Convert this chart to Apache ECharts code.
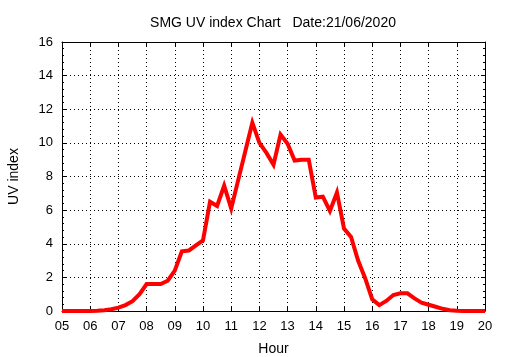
<!DOCTYPE html>
<html>
<head>
<meta charset="utf-8">
<script src="https://cdn.jsdelivr.net/npm/echarts@6/dist/echarts.min.js"></script>
<style>html,body{margin:0;padding:0;background:#fff}#c{width:510px;height:357px}</style>
</head>
<body>
<div id="c"></div>
<script>
var titleText = 'SMG UV index Chart   Date:21/06/2020';
var times = ['05:00','05:15','05:30','05:45','06:00','06:15','06:30','06:45',
  '07:00','07:15','07:30','07:45','08:00','08:15','08:30','08:45',
  '09:00','09:15','09:30','09:45','10:00','10:15','10:30','10:45',
  '11:00','11:15','11:30','11:45','12:00','12:15','12:30','12:45',
  '13:00','13:15','13:30','13:45','14:00','14:15','14:30','14:45',
  '15:00','15:15','15:30','15:45','16:00','16:15','16:30','16:45',
  '17:00','17:15','17:30','17:45','18:00','18:15','18:30','18:45',
  '19:00','19:15','19:30','19:45','20:00'];
var uv = [0,0,0,0,0,0.02,0.05,0.1,
  0.2,0.35,0.58,1.0,1.6,1.6,1.6,1.8,
  2.4,3.55,3.6,3.9,4.2,6.5,6.25,7.45,
  6.1,7.8,9.5,11.2,10.0,9.4,8.7,10.5,
  9.95,8.95,9.0,9.0,6.75,6.8,5.95,7.05,
  4.9,4.4,3.0,1.95,0.7,0.35,0.6,0.95,
  1.05,1.05,0.75,0.5,0.37,0.25,0.13,0.05,
  0.02,0,0,0,0];
var xMin = 5, xMax = 20, yMin = 0, yMax = 16;

function toHour(t){ var p = t.split(':'); return +p[0] + (+p[1])/60; }
var pts = times.map(function(t,i){ return [toHour(t), uv[i]]; });

var font = 'Liberation Sans, Arial, sans-serif';
var chart = echarts.init(document.getElementById('c'));
chart.setOption({
  animation: false,
  backgroundColor: '#fff',
  title: { text: titleText, left: 268, top: 11, textAlign: 'center',
    textStyle: { fontFamily: font, fontSize: 14, fontWeight: 'normal', color: '#000' } },
  grid: { left: 62, right: 25, top: 42, bottom: 46, show: false, containLabel: false, outerBoundsMode: 'none' },
  xAxis: [{
    type: 'value', min: xMin, max: xMax, interval: 1, position: 'bottom',
    name: 'Hour', nameLocation: 'middle', nameGap: 31,
    nameTextStyle: { fontFamily: font, fontSize: 14, color: '#000' },
    axisLine: { show: true, onZero: false, lineStyle: { color: '#000', width: 1 } },
    axisTick: { show: true, inside: true, length: 4, lineStyle: { color: '#000' } },
    axisLabel: { fontFamily: font, fontSize: 13, color: '#000', margin: 9,
      formatter: function(v){ return (v < 10 ? '0' : '') + v; } },
    splitLine: { show: true, lineStyle: { color: '#000', type: [1, 3], width: 1 } }
  }, {
    type: 'value', min: xMin, max: xMax, interval: 1, position: 'top',
    axisLine: { show: true, onZero: false, lineStyle: { color: '#000', width: 1 } },
    axisTick: { show: true, inside: true, length: 4, lineStyle: { color: '#000' } },
    axisLabel: { show: false }, splitLine: { show: false }
  }],
  yAxis: [{
    type: 'value', min: yMin, max: yMax, interval: 2, position: 'left',
    name: 'UV index', nameLocation: 'middle', nameGap: 41,
    nameTextStyle: { fontFamily: font, fontSize: 14, color: '#000' },
    axisLine: { show: true, onZero: false, lineStyle: { color: '#000', width: 1 } },
    axisTick: { show: true, inside: true, length: 4, lineStyle: { color: '#000' } },
    minorTick: { show: true, splitNumber: 5, length: 2, lineStyle: { color: '#000' } },
    axisLabel: { fontFamily: font, fontSize: 13, color: '#000', margin: 9 },
    splitLine: { show: true, lineStyle: { color: '#000', type: [1, 3], width: 1 } }
  }, {
    type: 'value', min: yMin, max: yMax, interval: 2, position: 'right',
    axisLine: { show: true, onZero: false, lineStyle: { color: '#000', width: 1 } },
    axisTick: { show: true, inside: true, length: 4, lineStyle: { color: '#000' } },
    minorTick: { show: true, splitNumber: 5, length: 2, lineStyle: { color: '#000' } },
    axisLabel: { show: false }, splitLine: { show: false }
  }],
  series: [{
    type: 'line', data: pts, xAxisIndex: 0, yAxisIndex: 0,
    showSymbol: false, symbol: 'none', smooth: false,
    lineStyle: { color: '#ff0000', width: 4, join: 'miter' },
    itemStyle: { color: '#ff0000' }
  }]
});
</script>
</body>
</html>
